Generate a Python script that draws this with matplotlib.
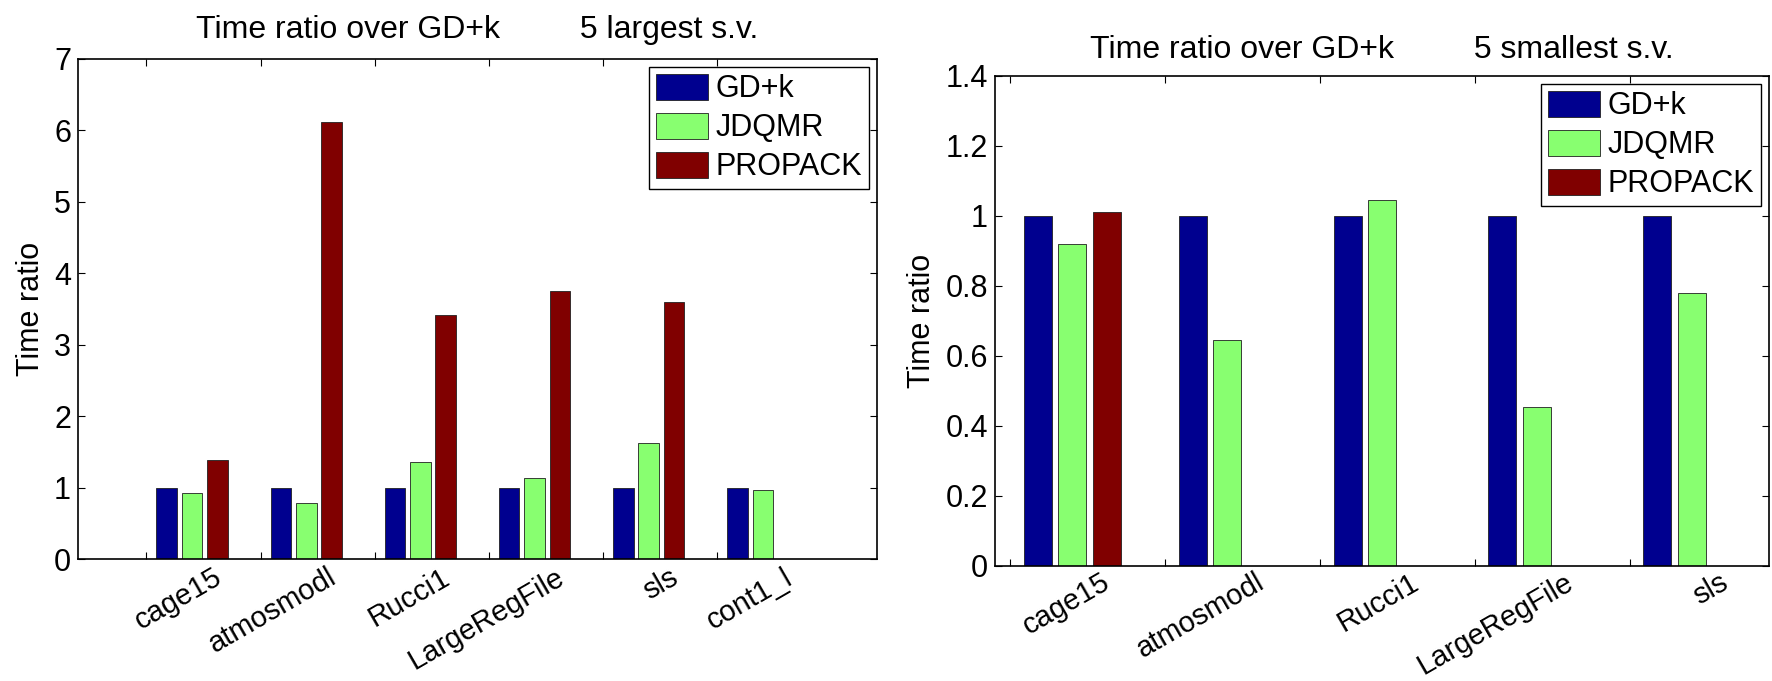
import numpy as np
import matplotlib
matplotlib.use("Agg")
import matplotlib.pyplot as plt
from matplotlib.ticker import FuncFormatter

plt.rcParams["font.family"] = ["Liberation Sans", "DejaVu Sans"]

## DATA

series_names = ["GD+k", "JDQMR", "PROPACK"]
series_colors = ["#00008F", "#88FF70", "#800000"]

largest_matrices = ["cage15", "atmosmodl", "Rucci1", "LargeRegFile", "sls", "cont1_l"]
largest_gdk = [1.0, 1.0, 1.0, 1.0, 1.0, 1.0]
largest_jdqmr = [0.93, 0.79, 1.36, 1.14, 1.63, 0.97]
largest_propack = [1.39, 6.12, 3.41, 3.75, 3.60, np.nan]

smallest_matrices = ["cage15", "atmosmodl", "Rucci1", "LargeRegFile", "sls"]
smallest_gdk = [1.0, 1.0, 1.0, 1.0, 1.0]
smallest_jdqmr = [0.92, 0.645, 1.045, 0.455, 0.78]
smallest_propack = [1.01, np.nan, np.nan, np.nan, np.nan]

largest_yticks = [0, 1, 2, 3, 4, 5, 6, 7]
smallest_yticks = [0, 0.2, 0.4, 0.6, 0.8, 1.0, 1.2, 1.4]

FONTSIZE = 22
BAR_WIDTH = 0.18
BAR_STEP = 0.222


# Draws one grouped bar panel (MATLAB-like look: ticks in, box on all sides)
def draw_panel(ax, title, title_pad, label_pad, matrices, values, yticks, xlim):

    centers = np.arange(1, len(matrices) + 1)
    for j, (name, color, vals) in enumerate(zip(series_names, series_colors, values)):
        ax.bar(centers + (j - 1) * BAR_STEP, vals, width=BAR_WIDTH,
               color=color, edgecolor="#202020", linewidth=0.6, label=name)

    ax.set_xlim(*xlim)
    ax.set_ylim(yticks[0], yticks[-1])
    ax.set_yticks(yticks)
    ax.yaxis.set_major_formatter(FuncFormatter(lambda v, p: f"{v:g}"))

    # tick marks sit left of each group, names are put on minor ticks
    ax.set_xticks(centers - 0.4)
    ax.set_xticklabels([])
    ax.set_xticks(centers + 0.18, minor=True)
    ax.set_xticklabels(matrices, minor=True, rotation=30, ha="right",
                       va="top", rotation_mode="anchor", fontsize=21)
    ax.tick_params(axis="x", which="minor", length=0, pad=label_pad)
    ax.tick_params(axis="both", which="major", direction="in", length=5,
                   width=0.8, top=True, right=True, labelsize=FONTSIZE, pad=5)

    for spine in ax.spines.values():
        spine.set_linewidth(1.2)

    ax.set_ylabel("Time ratio", fontsize=FONTSIZE, labelpad=6)
    ax.set_title(title, fontsize=23, pad=title_pad)

    leg = ax.legend(loc="upper right", fontsize=FONTSIZE, fancybox=False,
                    edgecolor="black", framealpha=1, handlelength=1.7,
                    handleheight=0.95, handletextpad=0.25, labelspacing=0.27,
                    borderpad=0.22, borderaxespad=0.26)
    leg.get_frame().set_linewidth(1.0)


fig = plt.figure(figsize=(17.72, 6.81), dpi=100)

ax_left = fig.add_axes([0.0440, 0.1791, 0.4509, 0.7343])
draw_panel(ax_left, "Time ratio over GD+k         5 largest s.v.", 15, 3,
           largest_matrices, [largest_gdk, largest_jdqmr, largest_propack],
           largest_yticks, (0, 7))

ax_right = fig.add_axes([0.5615, 0.1689, 0.4368, 0.7195])
draw_panel(ax_right, "Time ratio over GD+k         5 smallest s.v.", 13, 1.5,
           smallest_matrices, [smallest_gdk, smallest_jdqmr, smallest_propack],
           smallest_yticks, (0.5, 5.5))

fig.savefig("out.png", dpi=100)
